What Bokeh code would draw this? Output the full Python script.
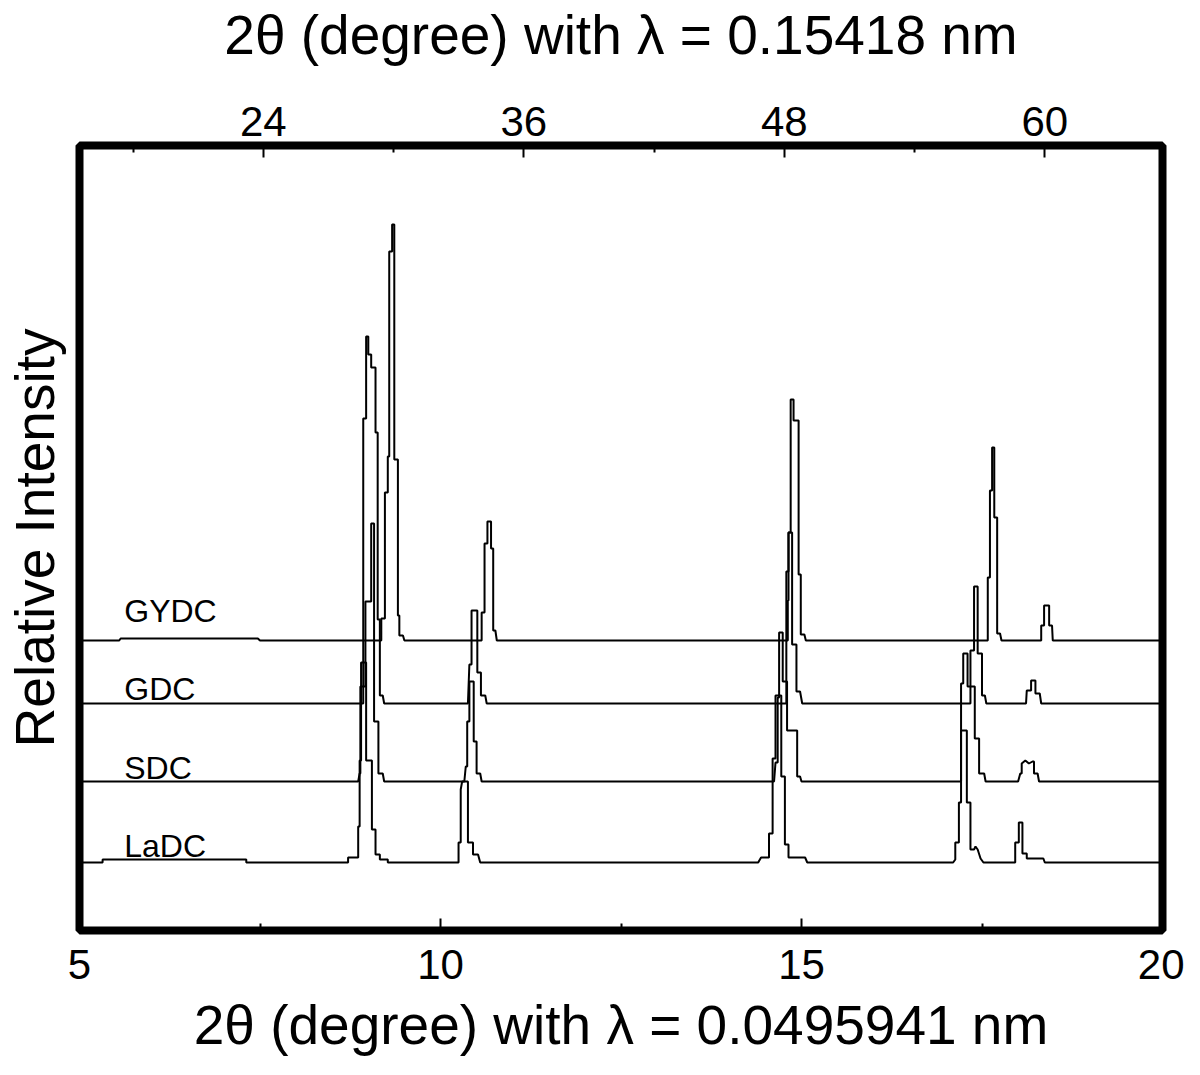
from bokeh.plotting import figure
from bokeh.models import Range1d, LinearAxis, FixedTicker, ColumnDataSource
from bokeh.core.properties import value
from bokeh.embed import file_html
from bokeh.resources import INLINE

# ---------------- data ----------------
samples = ["LaDC", "SDC", "GDC", "GYDC"]
offsets = [68, 149, 227, 290]          # vertical stacking of the patterns
label_x = [5.62, 5.62, 5.62, 5.62]
label_y = [85, 163, 242, 320]

ladc_x = [5.00, 5.32, 5.32, 7.31, 7.31, 8.72, 8.72, 8.86, 8.86, 8.88, 8.88, 8.90, 8.90, 8.97, 8.97, 9.05, 9.05, 9.10, 9.10, 9.16, 9.16, 9.27, 9.27,
          10.23, 10.25, 10.25, 10.28, 10.28, 10.30, 10.38, 10.38, 10.45, 10.45, 10.52, 10.55,
          14.40, 14.44, 14.55, 14.55, 14.60, 14.60, 14.64, 14.64, 14.72, 14.72, 14.77, 14.77, 14.82, 14.82, 15.05, 15.08,
          17.10, 17.13, 17.13, 17.18, 17.18, 17.21, 17.21, 17.29, 17.29, 17.34, 17.34, 17.39, 17.41, 17.44, 17.48, 17.52,
          17.93, 17.96, 17.96, 18.01, 18.01, 18.06, 18.06, 18.12, 18.12, 18.35, 18.37, 20.00]
ladc_y = [0, 0, 3, 3, 0, 0, 5, 5, 36, 36, 102, 102, 200, 200, 102, 102, 33, 33, 8, 8, 3, 3, 0,
          0, 0, 20, 20, 73, 81, 81, 20, 20, 8, 8, 0,
          0, 5, 5, 29, 29, 104, 104, 167, 167, 86, 86, 18, 18, 5, 5, 0,
          0, 3, 20, 20, 60, 60, 132, 132, 60, 60, 13, 13, 16, 13, 4, 0,
          0, 0, 20, 20, 40, 40, 9, 9, 4, 4, 0, 0]

sdc_x = [5.00, 8.86, 8.88, 8.89, 8.89, 8.96, 8.96, 9.04, 9.04, 9.08, 9.08, 9.14, 9.14, 9.20, 9.22,
         10.33, 10.35, 10.37, 10.37, 10.40, 10.40, 10.46, 10.46, 10.50, 10.50, 10.55, 10.57,
         14.62, 14.64, 14.67, 14.67, 14.69, 14.69, 14.74, 14.74, 14.80, 14.80, 14.94, 14.94, 14.98, 15.00,
         17.19, 17.21, 17.21, 17.24, 17.24, 17.30, 17.30, 17.40, 17.40, 17.46, 17.46, 17.53, 17.55,
         18.00, 18.03, 18.05, 18.05, 18.10, 18.15, 18.20, 18.22, 18.22, 18.27, 18.29, 20.00]
sdc_y = [0, 0, 8, 8, 95, 95, 180, 180, 258, 258, 60, 60, 8, 8, 0,
         0, 15, 15, 60, 60, 100, 100, 40, 40, 8, 8, 0,
         0, 19, 19, 84, 84, 149, 149, 100, 100, 51, 51, 5, 5, 0,
         0, 0, 98, 98, 128, 128, 95, 95, 43, 43, 8, 8, 0,
         0, 8, 8, 18, 21, 18, 20, 20, 8, 8, 0, 0]

gdc_x = [5.00, 8.93, 8.93, 8.97, 8.97, 9.00, 9.00, 9.04, 9.04, 9.10, 9.10, 9.13, 9.13, 9.16, 9.16, 9.20, 9.22,
         10.38, 10.40, 10.43, 10.43, 10.51, 10.51, 10.56, 10.56, 10.62, 10.64,
         14.77, 14.79, 14.79, 14.82, 14.82, 14.87, 14.87, 14.93, 14.93, 14.98, 15.01,
         17.31, 17.34, 17.34, 17.39, 17.39, 17.44, 17.44, 17.50, 17.50, 17.54, 17.56,
         18.11, 18.12, 18.18, 18.18, 18.24, 18.24, 18.30, 18.32, 20.00]
gdc_y = [0, 0, 285, 285, 367, 367, 349, 349, 336, 336, 271, 271, 84, 84, 8, 8, 0,
         0, 39, 39, 93, 93, 31, 31, 8, 8, 0,
         0, 0, 132, 132, 171, 171, 59, 59, 12, 12, 0,
         0, 0, 53, 53, 117, 117, 50, 50, 8, 8, 0,
         0, 13, 13, 23, 23, 10, 10, 0, 0]

gydc_x = [5.00, 5.55, 5.57, 7.47, 7.50, 9.15, 9.18, 9.18, 9.23, 9.23, 9.27, 9.27, 9.29, 9.29, 9.33, 9.33, 9.36, 9.36, 9.41, 9.41, 9.43, 9.43, 9.48, 9.50,
          10.55, 10.57, 10.57, 10.61, 10.61, 10.65, 10.65, 10.70, 10.70, 10.73, 10.73, 10.76, 10.78,
          14.76, 14.81, 14.81, 14.82, 14.82, 14.85, 14.85, 14.89, 14.89, 14.96, 14.96, 14.99, 14.99, 15.04, 15.06,
          17.56, 17.58, 17.58, 17.61, 17.61, 17.64, 17.64, 17.67, 17.67, 17.71, 17.71, 17.75, 17.77,
          18.30, 18.32, 18.32, 18.36, 18.36, 18.43, 18.43, 18.47, 18.48, 20.00]
gydc_y = [0, 0, 2, 2, 0, 0, 0, 22, 22, 148, 148, 184, 184, 389, 389, 416, 416, 181, 181, 25, 25, 5, 5, 0,
          0, 0, 28, 28, 97, 97, 119, 119, 92, 92, 10, 10, 0,
          0, 0, 40, 40, 108, 108, 241, 241, 220, 220, 66, 66, 6, 6, 0,
          0, 0, 63, 63, 150, 150, 193, 193, 123, 123, 7, 7, 0,
          0, 0, 15, 15, 35, 35, 15, 15, 0, 0]

traces_x = [ladc_x, sdc_x, gdc_x, gydc_x]
traces_y = [ladc_y, sdc_y, gdc_y, gydc_y]

bottom_ticks = [5, 10, 15, 20]
bottom_minor = [7.5, 12.5, 17.5]
top_ticks = [24, 36, 48, 60]
top_minor = [18, 30, 42, 54]
top_range = (15.53, 65.42)

FONT = "Liberation Sans"

# ---------------- figure ----------------
p = figure(width=1184, height=1059,
           x_range=Range1d(5, 20), y_range=Range1d(0, 785),
           output_backend="svg", toolbar_location=None,
           min_border_left=78, min_border_right=22,
           min_border_top=145, min_border_bottom=129)
p.background_fill_color = "white"
p.border_fill_color = "white"
p.grid.visible = False
p.outline_line_color = "black"
p.outline_line_width = 8
p.outline_line_alpha = 1.0

for xs, ys, off in zip(traces_x, traces_y, offsets):
    p.line(xs, [off + v for v in ys], line_color="black", line_width=2)

src = ColumnDataSource(dict(x=label_x, y=label_y, t=samples))
p.text(x="x", y="y", text="t", source=src, text_font=value(FONT),
       text_font_size=value("32px"), text_color="black",
       text_baseline="alphabetic", text_align="left")


def style(ax):
    ax.axis_line_color = None
    ax.major_tick_line_color = "black"
    ax.minor_tick_line_color = "black"
    ax.major_tick_line_width = 2
    ax.minor_tick_line_width = 2
    ax.major_tick_out = 0
    ax.minor_tick_out = 0
    ax.major_tick_in = 12
    ax.minor_tick_in = 7
    ax.major_label_text_font = FONT
    ax.major_label_text_font_size = "42px"
    ax.major_label_text_color = "black"
    ax.axis_label_text_font = FONT
    ax.axis_label_text_font_size = "55px"
    ax.axis_label_text_font_style = "normal"
    ax.axis_label_text_color = "black"


xb = p.xaxis[0]
xb.ticker = FixedTicker(ticks=bottom_ticks, minor_ticks=bottom_minor)
xb.axis_label = "2θ (degree) with λ = 0.0495941 nm"
style(xb)
xb.major_label_standoff = 19
xb.axis_label_standoff = 12

p.extra_x_ranges = {"top": Range1d(*top_range)}
xt = LinearAxis(x_range_name="top",
                ticker=FixedTicker(ticks=top_ticks, minor_ticks=top_minor),
                axis_label="2θ (degree) with λ = 0.15418 nm")
style(xt)
xt.major_label_standoff = 10
xt.axis_label_standoff = 38
p.add_layout(xt, "above")

yl = p.yaxis[0]
yl.ticker = FixedTicker(ticks=[], minor_ticks=[])
yl.axis_label = "Relative Intensity"
style(yl)
yl.major_tick_in = 0
yl.minor_tick_in = 0
yl.major_label_text_font_size = "0px"
yl.axis_label_standoff = 14

open("out.html", "w").write(file_html(p, INLINE))
